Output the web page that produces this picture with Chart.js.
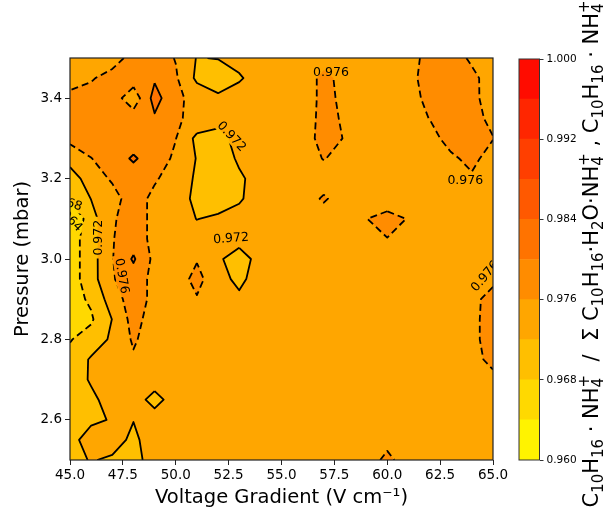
<!DOCTYPE html>
<html>
<head>
<meta charset="utf-8">
<script src="https://cdn.jsdelivr.net/npm/chart.js@4.4.0/dist/chart.umd.min.js"></script>
<style>
  html, body { margin: 0; padding: 0; background: #fff; }
  #wrap { position: relative; width: 610px; height: 513px; }
  #main { position: absolute; left: 0; top: 0; }
  #cbar { position: absolute; left: 505px; top: 0; }
</style>
</head>
<body>
<div id="wrap">
  <canvas id="main" width="610" height="513"></canvas>
  <canvas id="cbar" width="105" height="513"></canvas>
</div>
<script>
// grid of the measured ratio: columns = voltage gradient, rows = pressure (top row first)
const voltage = [45, 46, 47, 48, 49, 50, 51, 52, 53, 54, 55, 56, 57, 58, 59, 60, 61, 62, 63, 64, 65];
const pressure = [3.50, 3.45, 3.40, 3.35, 3.30, 3.25, 3.20, 3.15, 3.10, 3.05, 3.00, 2.95, 2.90, 2.85, 2.80, 2.75, 2.70, 2.65, 2.60, 2.55, 2.50];
const ratio = [
  [0.9745, 0.9745, 0.9736, 0.978, 0.978, 0.9758, 0.9718, 0.9722, 0.9735, 0.974, 0.974, 0.974, 0.9745, 0.974, 0.974, 0.974, 0.9736, 0.978, 0.978, 0.9753, 0.974],
  [0.9745, 0.9755, 0.978, 0.978, 0.9795, 0.9765, 0.9712, 0.969, 0.9715, 0.974, 0.974, 0.974, 0.977, 0.9748, 0.974, 0.974, 0.9745, 0.978, 0.978, 0.977, 0.9741],
  [0.977, 0.978, 0.978, 0.9735, 0.9815, 0.977, 0.9745, 0.973, 0.974, 0.974, 0.974, 0.974, 0.977, 0.9752, 0.974, 0.974, 0.9738, 0.9775, 0.978, 0.977, 0.9742],
  [0.977, 0.978, 0.978, 0.978, 0.9795, 0.9765, 0.975, 0.9735, 0.974, 0.974, 0.974, 0.974, 0.9772, 0.9755, 0.974, 0.974, 0.974, 0.9761, 0.978, 0.978, 0.9745],
  [0.977, 0.978, 0.978, 0.978, 0.978, 0.9761, 0.971, 0.9705, 0.9735, 0.974, 0.974, 0.974, 0.9775, 0.9758, 0.974, 0.974, 0.974, 0.974, 0.978, 0.978, 0.9762],
  [0.9735, 0.9759, 0.978, 0.9805, 0.978, 0.9753, 0.9718, 0.969, 0.9728, 0.974, 0.974, 0.974, 0.9762, 0.9745, 0.974, 0.974, 0.974, 0.974, 0.975, 0.9775, 0.9735],
  [0.970, 0.974, 0.9765, 0.978, 0.9765, 0.974, 0.9715, 0.969, 0.9712, 0.974, 0.974, 0.974, 0.974, 0.974, 0.974, 0.974, 0.974, 0.974, 0.974, 0.9752, 0.974],
  [0.9684, 0.9721, 0.9745, 0.978, 0.9749, 0.974, 0.971, 0.9695, 0.9715, 0.974, 0.974, 0.974, 0.9765, 0.974, 0.974, 0.9735, 0.974, 0.974, 0.974, 0.974, 0.974],
  [0.9635, 0.9705, 0.9755, 0.978, 0.9749, 0.974, 0.9719, 0.9728, 0.9735, 0.974, 0.974, 0.974, 0.974, 0.974, 0.9759, 0.9775, 0.9758, 0.974, 0.974, 0.974, 0.974],
  [0.966, 0.9703, 0.9758, 0.978, 0.9749, 0.974, 0.974, 0.974, 0.974, 0.974, 0.974, 0.974, 0.974, 0.974, 0.974, 0.9759, 0.974, 0.974, 0.974, 0.974, 0.974],
  [0.966, 0.9703, 0.9758, 0.9805, 0.9749, 0.974, 0.9757, 0.9728, 0.9695, 0.974, 0.974, 0.974, 0.974, 0.974, 0.974, 0.974, 0.974, 0.974, 0.974, 0.974, 0.974],
  [0.966, 0.9703, 0.9757, 0.978, 0.9749, 0.974, 0.9772, 0.9735, 0.971, 0.974, 0.974, 0.974, 0.974, 0.974, 0.974, 0.974, 0.974, 0.974, 0.974, 0.974, 0.9755],
  [0.9665, 0.9686, 0.974, 0.978, 0.9749, 0.974, 0.9757, 0.974, 0.9728, 0.974, 0.974, 0.974, 0.974, 0.974, 0.974, 0.974, 0.974, 0.974, 0.974, 0.9754, 0.9768],
  [0.967, 0.9675, 0.9721, 0.9775, 0.974, 0.974, 0.974, 0.974, 0.974, 0.974, 0.974, 0.974, 0.974, 0.974, 0.974, 0.974, 0.974, 0.974, 0.974, 0.9754, 0.977],
  [0.9678, 0.9695, 0.97275, 0.9765, 0.974, 0.974, 0.974, 0.974, 0.974, 0.974, 0.974, 0.974, 0.974, 0.974, 0.974, 0.974, 0.974, 0.974, 0.974, 0.9754, 0.977],
  [0.969, 0.9725, 0.974, 0.9755, 0.974, 0.974, 0.974, 0.974, 0.974, 0.974, 0.974, 0.974, 0.974, 0.974, 0.974, 0.974, 0.974, 0.974, 0.974, 0.9754, 0.9765],
  [0.970, 0.9724, 0.974, 0.974, 0.974, 0.974, 0.974, 0.974, 0.974, 0.974, 0.974, 0.974, 0.974, 0.974, 0.974, 0.974, 0.974, 0.974, 0.974, 0.974, 0.9755],
  [0.970, 0.9712, 0.9735, 0.974, 0.9705, 0.974, 0.974, 0.974, 0.974, 0.974, 0.974, 0.974, 0.974, 0.974, 0.974, 0.974, 0.974, 0.974, 0.974, 0.974, 0.974],
  [0.970, 0.9712, 0.9723, 0.9721, 0.974, 0.974, 0.974, 0.974, 0.974, 0.974, 0.974, 0.974, 0.974, 0.974, 0.974, 0.974, 0.974, 0.974, 0.974, 0.974, 0.974],
  [0.9705, 0.974, 0.9735, 0.9712, 0.974, 0.974, 0.974, 0.974, 0.974, 0.974, 0.974, 0.974, 0.974, 0.974, 0.974, 0.9748, 0.974, 0.974, 0.974, 0.974, 0.974],
  [0.971, 0.9722, 0.9715, 0.970, 0.9746, 0.974, 0.974, 0.974, 0.974, 0.974, 0.974, 0.974, 0.974, 0.974, 0.974, 0.977, 0.974, 0.974, 0.974, 0.974, 0.974]
];

const levels = [0.960, 0.964, 0.968, 0.972, 0.976, 0.980, 0.984, 0.988, 0.992, 0.996, 1.000];
const lineLevels = [0.964, 0.968, 0.972, 0.976, 0.980];
const dashedLevels = [0.968, 0.976];
const bandColors = ['#FFF300', '#FFD900', '#FFBF00', '#FFA600', '#FF8C00', '#FF7300', '#FF5900', '#FF3F00', '#FF2600', '#FF0C00'];

const xTicks = [45, 47.5, 50, 52.5, 55, 57.5, 60, 62.5, 65];
const yTicks = [2.6, 2.8, 3.0, 3.2, 3.4];
const cbTicks = [0.960, 0.968, 0.976, 0.984, 0.992, 1.000];

// inline contour labels (text, voltage, pressure, angle in degrees)
const contourLabels = [
  { text: '0.976', x: 57.34, y: 3.467, rot: 0 },
  { text: '0.976', x: 63.69, y: 3.197, rot: 0 },
  { text: '0.972', x: 52.66, y: 3.306, rot: 47 },
  { text: '0.972', x: 52.61, y: 3.053, rot: -4 },
  { text: '0.972', x: 46.30, y: 3.053, rot: -90 },
  { text: '0.976', x: 47.48, y: 2.958, rot: 80 },
  { text: '0.976', x: 64.60, y: 2.958, rot: -50 },
  { text: '0.968', x: 44.77, y: 3.145, rot: 20 },
  { text: '0.964', x: 44.92, y: 3.106, rot: 45 }
];

const cbTitle = [
  ['C'], ['10', 'sub'], ['H'], ['16', 'sub'], [' · NH'], ['4', 'sub', '+'],
  ['  /  Σ C'], ['10', 'sub'], ['H'], ['16', 'sub'], ['·H'], ['2', 'sub'], ['O·NH'], ['4', 'sub', '+'],
  [' , C'], ['10', 'sub'], ['H'], ['16', 'sub'], [' · NH'], ['4', 'sub', '+']
];

const FONT = '"DejaVu Sans", "Liberation Sans", sans-serif';

function cellPoly(xs, ys, i, j) {
  return [
    { x: xs[i], y: ys[j], z: ratio[j][i] },
    { x: xs[i + 1], y: ys[j], z: ratio[j][i + 1] },
    { x: xs[i + 1], y: ys[j + 1], z: ratio[j + 1][i + 1] },
    { x: xs[i], y: ys[j + 1], z: ratio[j + 1][i] }
  ];
}

// keep the part of a cell where the value is >= lv
function clipAbove(poly, lv) {
  const out = [];
  for (let k = 0; k < poly.length; k++) {
    const a = poly[k], b = poly[(k + 1) % poly.length];
    const ain = a.z >= lv, bin = b.z >= lv;
    if (ain) out.push(a);
    if (ain !== bin) {
      const t = (lv - a.z) / (b.z - a.z);
      out.push({ x: a.x + t * (b.x - a.x), y: a.y + t * (b.y - a.y), z: lv });
    }
  }
  return out;
}

// marching squares, segments keyed by grid edge so they can be chained
function traceLevel(xs, ys, lv) {
  const nx = xs.length;
  const pts = {};
  const segs = [];
  for (let j = 0; j < ys.length - 1; j++) {
    for (let i = 0; i < nx - 1; i++) {
      const c = [[i, j], [i + 1, j], [i + 1, j + 1], [i, j + 1]];
      const hits = [];
      for (let e = 0; e < 4; e++) {
        const [ia, ja] = c[e], [ib, jb] = c[(e + 1) % 4];
        const za = ratio[ja][ia], zb = ratio[jb][ib];
        if ((za >= lv) !== (zb >= lv)) {
          const ida = ja * nx + ia, idb = jb * nx + ib;
          const key = Math.min(ida, idb) + '-' + Math.max(ida, idb);
          const t = (lv - za) / (zb - za);
          pts[key] = { x: xs[ia] + t * (xs[ib] - xs[ia]), y: ys[ja] + t * (ys[jb] - ys[ja]) };
          hits[e] = key;
        }
      }
      const found = hits.filter(Boolean);
      if (found.length === 2) {
        segs.push(found);
      } else if (found.length === 4) {
        const below0 = ratio[j][i] < lv;
        if (below0) { segs.push([hits[3], hits[0]]); segs.push([hits[1], hits[2]]); }
        else { segs.push([hits[0], hits[1]]); segs.push([hits[2], hits[3]]); }
      }
    }
  }
  const adj = {};
  segs.forEach((s, k) => {
    (adj[s[0]] = adj[s[0]] || []).push(k);
    (adj[s[1]] = adj[s[1]] || []).push(k);
  });
  const used = new Array(segs.length).fill(false);
  const walk = (k, from) => {
    const path = [pts[from]];
    let cur = from;
    while (k !== undefined && !used[k]) {
      used[k] = true;
      cur = segs[k][0] === cur ? segs[k][1] : segs[k][0];
      path.push(pts[cur]);
      k = adj[cur].find(m => !used[m]);
    }
    return path;
  };
  const lines = [];
  Object.keys(adj).forEach(key => {
    if (adj[key].length === 1 && !used[adj[key][0]]) lines.push(walk(adj[key][0], key));
  });
  segs.forEach((s, k) => { if (!used[k]) lines.push(walk(k, s[0])); });
  return lines;
}

function boxPath(ctx, px, py, w, h, deg) {
  const r = deg * Math.PI / 180, c = Math.cos(r), s = Math.sin(r);
  const pts = [[-w / 2, -h / 2], [w / 2, -h / 2], [w / 2, h / 2], [-w / 2, h / 2]]
    .map(([u, v]) => [px + u * c - v * s, py + u * s + v * c]);
  ctx.moveTo(pts[0][0], pts[0][1]);
  pts.slice(1).forEach(p => ctx.lineTo(p[0], p[1]));
  ctx.closePath();
}

function drawRich(ctx, parts, cx, cy, size) {
  const big = size + 'px ' + FONT, small = Math.round(size * 0.7) + 'px ' + FONT;
  const widthOf = p => {
    if (!p[1]) { ctx.font = big; return ctx.measureText(p[0]).width; }
    ctx.font = small;
    return Math.max(ctx.measureText(p[0]).width, p[2] ? ctx.measureText(p[2]).width : 0);
  };
  const total = parts.reduce((s, p) => s + widthOf(p), 0);
  ctx.save();
  ctx.translate(cx, cy);
  ctx.rotate(-Math.PI / 2);
  ctx.fillStyle = '#000';
  ctx.textAlign = 'left';
  ctx.textBaseline = 'alphabetic';
  let x = -total / 2;
  parts.forEach(p => {
    const w = widthOf(p);
    if (!p[1]) {
      ctx.fillText(p[0], x, 0);
    } else {
      ctx.fillText(p[0], x, size * 0.25);
      if (p[2]) ctx.fillText(p[2], x, -size * 0.42);
    }
    x += w;
  });
  ctx.restore();
}

const contourPlugin = {
  id: 'contours',
  beforeDatasetsDraw(chart) {
    const { ctx, chartArea: area, scales: { x, y } } = chart;
    const xs = voltage.map(v => x.getPixelForValue(v));
    const ys = pressure.map(v => y.getPixelForValue(v));

    ctx.save();
    ctx.beginPath();
    ctx.rect(area.left, area.top, area.width, area.height);
    ctx.clip();

    // filled bands
    for (let b = 0; b < bandColors.length; b++) {
      ctx.beginPath();
      let any = false;
      for (let j = 0; j < ys.length - 1; j++) {
        for (let i = 0; i < xs.length - 1; i++) {
          const poly = clipAbove(cellPoly(xs, ys, i, j), levels[b]);
          if (poly.length < 3) continue;
          any = true;
          ctx.moveTo(poly[0].x, poly[0].y);
          for (let k = 1; k < poly.length; k++) ctx.lineTo(poly[k].x, poly[k].y);
          ctx.closePath();
        }
      }
      if (any) { ctx.fillStyle = bandColors[b]; ctx.fill(); }
    }

    // contour lines, with gaps where the labels sit
    ctx.font = '12.5px ' + FONT;
    ctx.save();
    ctx.beginPath();
    ctx.rect(area.left, area.top, area.width, area.height);
    contourLabels.forEach(l => {
      const w = ctx.measureText(l.text).width + 6;
      boxPath(ctx, x.getPixelForValue(l.x), y.getPixelForValue(l.y), w, 14, l.rot);
    });
    ctx.clip('evenodd');
    ctx.strokeStyle = '#000';
    ctx.lineWidth = 1.8;
    ctx.lineJoin = 'round';
    lineLevels.forEach(lv => {
      ctx.setLineDash(dashedLevels.includes(lv) ? [7, 4] : []);
      traceLevel(xs, ys, lv).forEach(path => {
        ctx.beginPath();
        ctx.moveTo(path[0].x, path[0].y);
        for (let k = 1; k < path.length; k++) ctx.lineTo(path[k].x, path[k].y);
        ctx.stroke();
      });
    });
    ctx.restore();

    // labels
    ctx.fillStyle = '#000';
    ctx.textAlign = 'center';
    ctx.textBaseline = 'middle';
    contourLabels.forEach(l => {
      ctx.save();
      ctx.translate(x.getPixelForValue(l.x), y.getPixelForValue(l.y));
      ctx.rotate(l.rot * Math.PI / 180);
      ctx.fillText(l.text, 0, 1);
      ctx.restore();
    });
    ctx.restore();
  },
  afterDraw(chart) {
    const { ctx, chartArea: area } = chart;
    ctx.save();
    ctx.strokeStyle = '#222';
    ctx.lineWidth = 1.2;
    ctx.strokeRect(area.left, area.top, area.width, area.height);
    ctx.restore();
    drawRich(ctx, cbTitle, 598, 254, 21);
  }
};

const axisFont = { family: FONT, size: 13.5 };
const titleFont = { family: FONT, size: 19.5 };

new Chart(document.getElementById('main'), {
  type: 'scatter',
  data: { datasets: [{ data: [], pointRadius: 0 }] },
  options: {
    responsive: false,
    animation: false,
    events: [],
    layout: { padding: { top: 58, right: 117, bottom: 0, left: 0 } },
    plugins: { legend: { display: false }, tooltip: { enabled: false } },
    scales: {
      x: {
        type: 'linear', min: 45, max: 65,
        afterBuildTicks: a => { a.ticks = xTicks.map(v => ({ value: v })); },
        afterFit: s => { s.height = 53; },
        grid: { drawOnChartArea: false, drawTicks: true, tickLength: 5, color: '#222' },
        border: { display: false },
        ticks: { font: axisFont, color: '#000', padding: 2, autoSkip: false, maxRotation: 0, callback: v => v.toFixed(1) },
        title: { display: true, text: 'Voltage Gradient (V cm⁻¹)', font: titleFont, color: '#000', padding: { top: 0, bottom: 3 } }
      },
      y: {
        type: 'linear', min: 2.5, max: 3.5,
        afterBuildTicks: a => { a.ticks = yTicks.map(v => ({ value: v })); },
        afterFit: s => { s.width = 70; },
        grid: { drawOnChartArea: false, drawTicks: true, tickLength: 5, color: '#222' },
        border: { display: false },
        ticks: { font: axisFont, color: '#000', padding: 3, autoSkip: false, callback: v => v.toFixed(1) },
        title: { display: true, text: 'Pressure (mbar)', font: titleFont, color: '#000', padding: { top: 11, bottom: 0 } }
      }
    }
  },
  plugins: [contourPlugin]
});

const outlinePlugin = {
  id: 'outline',
  afterDraw(chart) {
    const { ctx, chartArea: area } = chart;
    ctx.save();
    ctx.strokeStyle = '#333';
    ctx.lineWidth = 1;
    ctx.strokeRect(area.left, area.top, area.width, area.height);
    ctx.restore();
  }
};

new Chart(document.getElementById('cbar'), {
  type: 'bar',
  data: {
    labels: [''],
    datasets: bandColors.map((c, i) => ({
      data: [[levels[i], levels[i + 1]]],
      backgroundColor: c,
      borderWidth: 0,
      grouped: false,
      barPercentage: 1,
      categoryPercentage: 1
    }))
  },
  options: {
    responsive: false,
    animation: false,
    events: [],
    layout: { padding: { left: 14, top: 59, bottom: 53, right: 0 } },
    plugins: { legend: { display: false }, tooltip: { enabled: false } },
    scales: {
      x: { display: false },
      y: {
        position: 'right', min: 0.96, max: 1.0,
        afterBuildTicks: a => { a.ticks = cbTicks.map(v => ({ value: v })); },
        afterFit: s => { s.width = 70.5; },
        grid: { drawOnChartArea: false, drawTicks: true, tickLength: 4, color: '#333' },
        border: { display: false },
        ticks: { font: { family: FONT, size: 10.5 }, color: '#000', padding: 3, autoSkip: false, callback: v => v.toFixed(3) }
      }
    }
  },
  plugins: [outlinePlugin]
});
</script>
</body>
</html>
